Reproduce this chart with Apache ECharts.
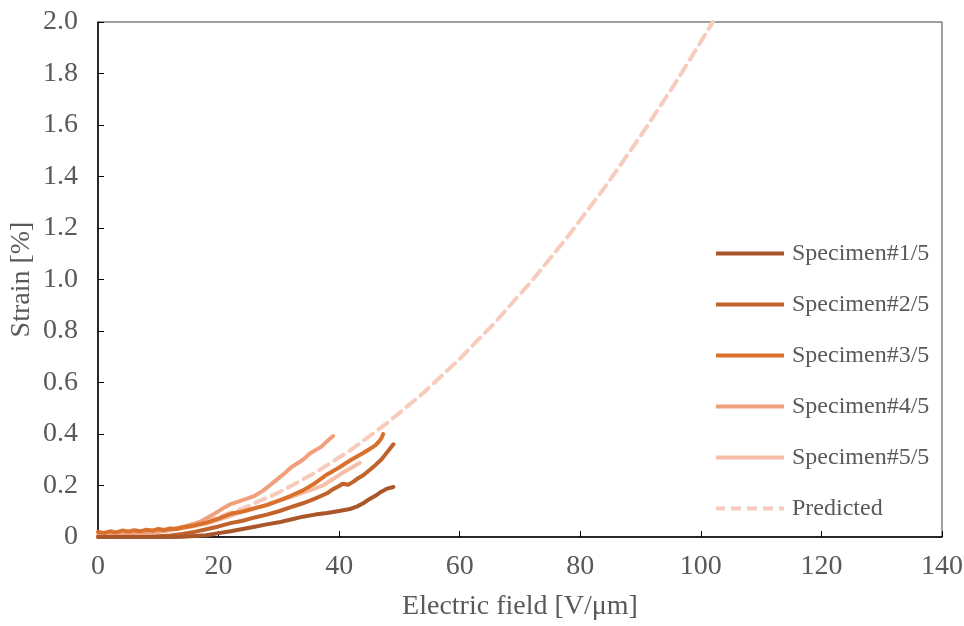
<!DOCTYPE html>
<html>
<head>
<meta charset="utf-8">
<script src="https://cdn.jsdelivr.net/npm/echarts@6/dist/echarts.min.js"></script>
<style>html,body{margin:0;padding:0;background:#fff}#c{width:964px;height:626px}</style>
</head>
<body>
<div id="c"></div>
<script>
const seriesNames = ["Specimen#1/5","Specimen#2/5","Specimen#3/5","Specimen#4/5","Specimen#5/5","Predicted"];
const xTicks = [0,20,40,60,80,100,120,140];
const yTicks = [0,0.2,0.4,0.6,0.8,1.0,1.2,1.4,1.6,1.8,2.0];

const s1x = [0,4,8,12,14,16,18,20,22,24,26,28,30,32,34,36,38,40,42,43,44,45,46,47,48,49];
const s1y = [0,0,0,0,0.001,0.004,0.007,0.015,0.022,0.031,0.04,0.049,0.057,0.068,0.079,0.087,0.093,0.101,0.11,0.119,0.131,0.147,0.16,0.176,0.188,0.194];

const s2x = [8,10,12,14,16,18,20,22,24,26,28,30,32,34,36,38,39,40,40.6,41.5,42.3,43,44,45,46,47,48,49];
const s2y = [0,0.003,0.006,0.012,0.02,0.03,0.041,0.054,0.063,0.076,0.087,0.1,0.116,0.131,0.149,0.17,0.186,0.198,0.207,0.203,0.214,0.226,0.24,0.259,0.279,0.301,0.33,0.36];

const s3x = [0,1,2,3,4,5,6,7,8,9,10,11,12,13,14,16,18,20,22,24,26,28,30,32,34,36,38,40,42,44,45,46,46.5,47,47.3];
const s3y = [0.02,0.016,0.022,0.018,0.025,0.021,0.026,0.022,0.028,0.025,0.031,0.027,0.033,0.031,0.037,0.045,0.056,0.071,0.09,0.099,0.112,0.124,0.141,0.16,0.181,0.209,0.243,0.27,0.3,0.326,0.341,0.356,0.368,0.383,0.4];

const s4x = [0,4,8,12,15,17,19,21,22,24,26,27.4,29,31,32,34,35.2,37,38,39];
const s4y = [0.005,0.008,0.015,0.027,0.045,0.06,0.086,0.115,0.128,0.143,0.16,0.18,0.21,0.248,0.27,0.3,0.325,0.35,0.372,0.392];

const s5x = [0,5,10,15,18,21,23.5,26,28.5,31,33,35,37.3,39,40.6,42,43.4];
const s5y = [0.005,0.01,0.02,0.038,0.052,0.074,0.095,0.11,0.13,0.148,0.164,0.18,0.2,0.225,0.25,0.268,0.288];

const pX = [0,6,12,18,24,30,36,42,48,54,60,66,72,78,84,90,96,102];
const pY = [0,0.007,0.028,0.062,0.111,0.173,0.249,0.339,0.443,0.560,0.692,0.837,0.996,1.169,1.356,1.557,1.771,2.0];

const colors = ["#A8562A","#C2622B","#D9712D","#F0A07C","#F6BDA7","#F8CCBC"];
const xs = [s1x,s2x,s3x,s4x,s5x,pX];
const ys = [s1y,s2y,s3y,s4y,s5y,pY];

const font = "'Liberation Serif','Times New Roman',serif";
const solidIcon = 'path://M0,0H68V4H0Z';
const dashIcon = 'path://M0,0H9V4H0Z M15,0H25V4H15Z M31,0H41V4H31Z M47,0H57V4H47Z M63,0H68V4H63Z';

const chart = echarts.init(document.getElementById('c'), null, {renderer:'canvas'});
const series = seriesNames.map((n,i)=>({
  name:n, type:'line', showSymbol:false, symbol:'none',
  data: xs[i].map((x,j)=>[x, ys[i][j]]),
  lineStyle:{color:colors[i], width:4, type: i===5?[11,7]:'solid', cap:'round', join:'round'},
  itemStyle:{color:colors[i]},
  z: i===5?1:(10-i),
  animation:false
}));
chart.setOption({
  animation:false,
  grid:{left:98, right:22, top:22, bottom:89, show:true, borderColor:'#404040', borderWidth:1,
        containLabel:false, outerBoundsMode:'none'},
  legend:{
    orient:'vertical', left:716, top:241.5, padding:0, itemGap:27, itemWidth:68, itemHeight:4,
    textStyle:{fontFamily:font, fontSize:24, color:'#595959', padding:[0,0,0,3]},
    data: seriesNames.map((n,i)=>({name:n, icon: i===5?dashIcon:solidIcon, itemStyle:{color:colors[i]}}))
  },
  xAxis:{
    type:'value', min:0, max:140, interval:20,
    name:'Electric field [V/μm]', nameLocation:'middle', nameGap:56, nameMoveOverlap:false,
    nameTextStyle:{fontFamily:font, fontSize:28, color:'#595959'},
    axisLine:{lineStyle:{color:'#000', width:1.5}},
    axisTick:{inside:true, length:6, lineStyle:{color:'#000'}},
    axisLabel:{fontFamily:font, fontSize:28, color:'#595959', margin:16,
      formatter:v=>xTicks.includes(v)?String(v):''},
    splitLine:{show:false}
  },
  yAxis:{
    type:'value', min:0, max:2.0, interval:0.2,
    name:'Strain [%]', nameLocation:'middle', nameGap:62, nameRotate:90, nameMoveOverlap:false,
    nameTextStyle:{fontFamily:font, fontSize:28, color:'#595959'},
    axisLine:{lineStyle:{color:'#000', width:1.5}},
    axisTick:{inside:true, length:6, lineStyle:{color:'#000'}},
    axisLabel:{fontFamily:font, fontSize:28, color:'#595959', margin:20,
      formatter:v=>{const t=yTicks.find(t=>Math.abs(t-v)<1e-9); return t===undefined?'':(t===0?'0':t.toFixed(1));}},
    splitLine:{show:false}
  },
  series: series
});
</script>
</body>
</html>
